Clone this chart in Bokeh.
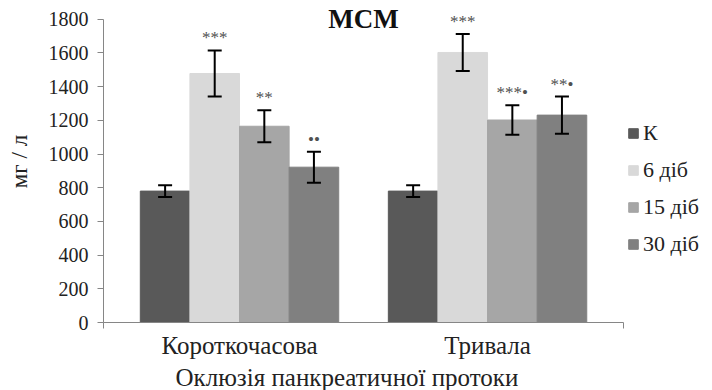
from bokeh.plotting import figure
from bokeh.models import ColumnDataSource, Whisker, TeeHead, Label, FixedTicker, Range1d, Title
from bokeh.core.properties import value
from bokeh.embed import file_html
from bokeh.resources import INLINE

groups = ["Короткочасова", "Тривала"]
series = ["К", "6 діб", "15 діб", "30 діб"]
values_K = [780, 780]
values_6 = [1478, 1603]
values_15 = [1165, 1202]
values_30 = [922, 1231]
err_K = [35, 35]
err_6 = [137, 110]
err_15 = [95, 87]
err_30 = [92, 110]
marks_K = ["", ""]
marks_6 = ["***", "***"]
marks_15 = ["**", "***•"]
marks_30 = ["••", "**•"]
y_ticks = list(range(0, 1801, 200))
title_text = "МСМ"
y_title = "мг / л"
x_title = "Оклюзія панкреатичної протоки"

colors = ["#595959", "#d9d9d9", "#a6a6a6", "#808080"]
FONT = "Liberation Serif"
BAR_W = 0.2
X_START, X_AXIS_END, X_END = 0.4516, 2.548, 2.907
Y_MAX = 1800
Y_END = 1911.4

p = figure(width=712, height=390, output_backend="svg", toolbar_location=None,
           x_range=Range1d(X_START, X_END), y_range=Range1d(0, Y_END),
           min_border_left=103, min_border_right=0, min_border_top=0, min_border_bottom=64)
p.outline_line_color = None
p.xgrid.visible = False
p.ygrid.visible = False

all_vals = [values_K, values_6, values_15, values_30]
all_errs = [err_K, err_6, err_15, err_30]
all_marks = [marks_K, marks_6, marks_15, marks_30]

for i, (name, vals, errs, marks, col) in enumerate(zip(series, all_vals, all_errs, all_marks, colors)):
    xs = [g + 1 + (i - 1.5) * BAR_W for g in range(len(groups))]
    src = ColumnDataSource(dict(
        x=xs, top=vals,
        upper=[v + e for v, e in zip(vals, errs)],
        lower=[v - e for v, e in zip(vals, errs)],
        mark=marks))
    p.vbar(x="x", top="top", width=BAR_W, source=src, fill_color=col,
           line_color=col, legend_label=name)
    w = Whisker(base="x", upper="upper", lower="lower", source=src,
                line_color="black", line_width=2, level="annotation",
                upper_head=TeeHead(size=14, line_width=2, line_color="black"),
                lower_head=TeeHead(size=14, line_width=2, line_color="black"))
    p.add_layout(w)
    p.text(x="x", y="upper", text="mark", source=src, text_align="center",
           text_baseline="bottom", text_font=value(FONT), text_font_size="17px",
           text_color="#505050", y_offset=-3)

# y axis
ya = p.yaxis[0]
ya.ticker = FixedTicker(ticks=y_ticks, minor_ticks=[])
ya.bounds = (0, Y_MAX)
ya.axis_line_color = "#868686"
ya.major_tick_line_color = "#868686"
ya.major_tick_out = 6
ya.major_tick_in = 0
ya.minor_tick_line_color = None
ya.major_label_text_font = FONT
ya.major_label_text_font_size = "20px"
ya.major_label_text_color = "#222222"
ya.major_label_standoff = 9
ya.axis_label = y_title
ya.axis_label_text_font = FONT
ya.axis_label_text_font_size = "23px"
ya.axis_label_text_font_style = "normal"
ya.axis_label_text_color = "#222222"
ya.axis_label_standoff = 14

# x axis
xa = p.xaxis[0]
xa.ticker = FixedTicker(ticks=[1, 2], minor_ticks=[X_START, X_AXIS_END])
xa.major_label_overrides = {1: groups[0], 2: groups[1]}
xa.bounds = (X_START, X_AXIS_END)
xa.axis_line_color = "#868686"
xa.major_tick_line_color = None
xa.major_tick_out = 0
xa.minor_tick_line_color = "#868686"
xa.minor_tick_out = 6
xa.minor_tick_in = 0
xa.major_label_text_font = FONT
xa.major_label_text_font_size = "25px"
xa.major_label_text_color = "#222222"
xa.major_label_standoff = 3

p.add_layout(Title(text=x_title, align="left", offset=72, standoff=0,
                   text_font=FONT, text_font_size="25px", text_font_style="normal",
                   text_color="#222222"), "below")

p.add_layout(Label(x=1.5, y=Y_MAX, text=title_text, text_font=FONT,
                   text_font_size="27px", text_font_style="bold",
                   text_align="center", text_baseline="middle", text_color="#111111"))

lg = p.legend[0]
lg.location = (524, 65)
lg.border_line_color = None
lg.background_fill_alpha = 0
lg.padding = 0
lg.margin = 0
lg.spacing = 11
lg.glyph_width = 12
lg.glyph_height = 12
lg.label_standoff = 4
lg.label_text_font = FONT
lg.label_text_font_size = "22px"
lg.label_text_color = "#222222"
lg.label_height = 24

open("out.html", "w").write(file_html(p, INLINE))
